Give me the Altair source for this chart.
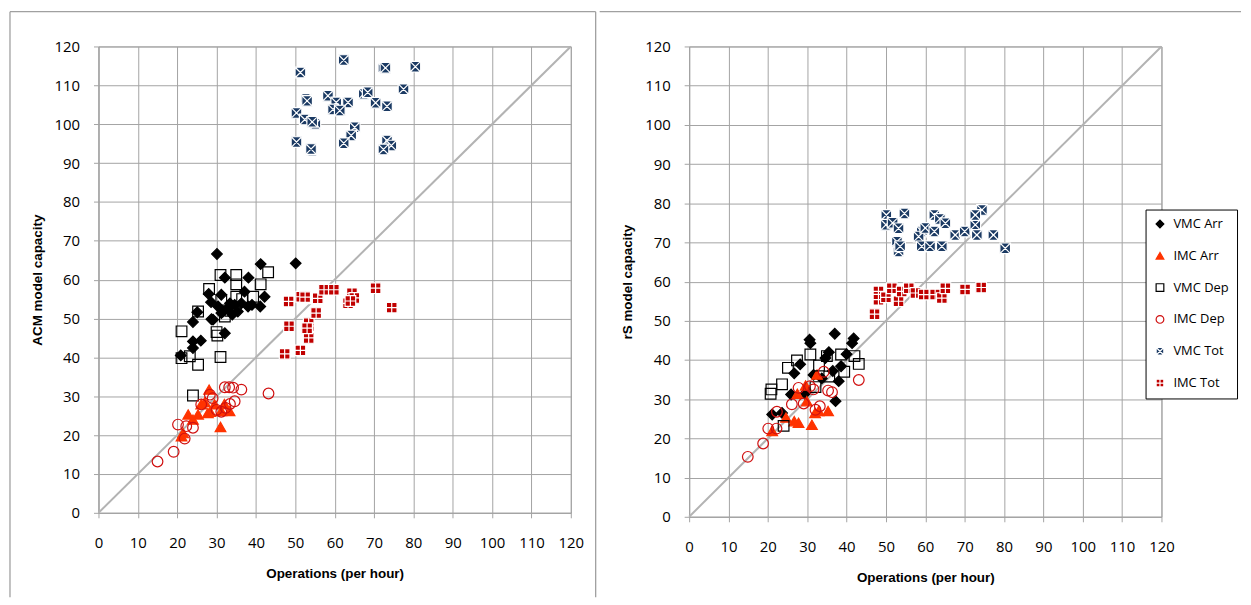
import altair as alt
import pandas as pd

SERIES = ["VMC Arr", "IMC Arr", "VMC Dep", "IMC Dep", "VMC Tot", "IMC Tot"]

# ---------------- Left panel: ACM model capacity ----------------
L_VMCARR_X = [30.1, 41.2, 50.1, 32.1, 38.1, 42.2, 41.1, 28.0, 31.2, 37.1, 38.0, 28.6, 25.1, 24.0, 29.1, 32.1, 24.0, 26.0, 24.0, 20.9, 30.4, 31.6, 32.9, 34.6, 35.4, 36.3, 33.4, 31.2, 28.7, 34.0, 39.0]
L_VMCARR_Y = [66.6, 64.0, 64.2, 60.5, 60.5, 55.6, 53.1, 56.3, 56.1, 56.9, 53.1, 54.2, 51.6, 49.1, 49.7, 46.2, 44.1, 44.3, 42.4, 40.5, 53.1, 51.8, 52.6, 53.5, 51.8, 53.9, 53.9, 51.4, 49.8, 51.0, 53.5]
L_IMCARR_X = [28.1, 22.8, 25.3, 26.1, 27.8, 28.4, 29.5, 31.0, 31.2, 33.3, 21.1, 21.5, 27.0, 32.0, 24.0]
L_IMCARR_Y = [31.7, 25.3, 25.3, 27.9, 25.7, 26.0, 27.9, 22.1, 26.2, 26.2, 19.7, 20.5, 28.5, 28.0, 24.0]
L_VMCDEP_X = [43.1, 35.0, 35.0, 41.2, 28.1, 31.0, 39.3, 35.0, 31.2, 25.3, 32.1, 21.1, 30.2, 30.0, 21.1, 23.2, 31.0, 25.3, 24.0, 33.5, 36.5]
L_VMCDEP_Y = [61.9, 61.2, 58.8, 58.8, 57.6, 61.2, 55.6, 55.6, 54.8, 51.8, 50.5, 46.7, 45.6, 46.5, 39.8, 40.3, 40.1, 38.1, 30.2, 52.0, 55.0]
L_IMCDEP_X = [15.0, 19.1, 21.9, 20.2, 22.3, 24.0, 26.1, 28.3, 29.0, 32.1, 33.2, 34.2, 36.3, 34.6, 33.4, 31.2, 43.2, 32.3, 30.0]
L_IMCDEP_Y = [13.2, 15.7, 19.1, 22.7, 22.3, 21.9, 27.9, 30.4, 29.5, 32.3, 32.3, 32.2, 31.7, 28.7, 28.0, 26.0, 30.7, 27.0, 26.5]
L_VMCTOT_X = [51.3, 62.3, 72.4, 72.9, 80.5, 77.5, 52.7, 53.0, 58.3, 60.4, 63.4, 59.6, 61.3, 67.4, 68.4, 70.4, 73.3, 50.3, 52.4, 55.1, 54.3, 65.1, 64.2, 62.3, 50.3, 54.3, 54.0, 73.3, 74.4, 72.4]
L_VMCTOT_Y = [113.3, 116.5, 114.4, 114.5, 114.8, 109.0, 106.5, 106.0, 107.3, 105.6, 105.6, 103.8, 103.5, 107.8, 108.2, 105.5, 104.6, 102.9, 101.2, 100.1, 100.6, 99.2, 97.1, 95.1, 95.4, 93.2, 93.6, 95.8, 94.5, 93.5]
L_IMCTOT_X = [47.3, 51.3, 48.4, 53.4, 53.4, 53.4, 48.3, 51.5, 54.1, 55.3, 55.7, 57.3, 59.8, 64.4, 65.0, 63.4, 70.4, 74.5, 53.0, 52.5, 64.0]
L_IMCTOT_Y = [40.9, 41.8, 48.0, 48.8, 46.7, 45.0, 54.4, 55.6, 55.2, 51.4, 55.2, 57.4, 57.4, 56.5, 55.3, 53.9, 57.8, 52.8, 47.5, 55.5, 54.5]

# ---------------- Right panel: rS model capacity ----------------
R_VMCARR_X = [37.0, 41.8, 41.4, 30.6, 30.8, 34.6, 28.2, 38.6, 36.5, 38.0, 26.7, 31.6, 33.7, 37.2, 25.9, 21.1, 23.6, 29.4, 40.0, 35.5]
R_VMCARR_Y = [46.7, 45.5, 44.3, 45.2, 44.3, 40.5, 38.9, 38.4, 37.2, 34.6, 36.6, 36.2, 35.3, 29.5, 31.2, 26.1, 26.5, 31.4, 41.5, 42.0]
R_IMCARR_X = [32.5, 27.5, 29.6, 32.9, 35.3, 21.1, 27.8, 31.2, 26.7, 24.6, 29.9, 32.0]
R_IMCARR_Y = [36.3, 31.4, 33.5, 27.0, 27.0, 21.9, 24.0, 23.5, 24.4, 25.3, 29.5, 26.5]
R_VMCDEP_X = [43.1, 38.6, 42.0, 35.0, 30.8, 27.4, 25.1, 39.4, 33.0, 23.6, 20.9, 20.7, 32.1, 24.0, 35.6]
R_VMCDEP_Y = [39.0, 41.4, 41.0, 41.0, 41.4, 39.9, 38.0, 37.0, 38.6, 33.8, 32.5, 31.4, 33.1, 23.2, 35.8]
R_IMCDEP_X = [14.9, 18.8, 20.1, 22.2, 22.3, 26.1, 27.8, 29.1, 30.7, 31.6, 35.3, 36.3, 34.2, 33.2, 32.1, 43.1]
R_IMCDEP_Y = [15.3, 18.7, 22.5, 22.5, 26.8, 28.7, 32.9, 28.9, 33.3, 32.5, 32.2, 31.8, 37.0, 28.2, 27.3, 34.9]
R_VMCTOT_X = [50.1, 54.7, 50.0, 51.7, 53.2, 52.8, 53.2, 53.6, 62.3, 63.7, 65.1, 59.1, 58.3, 60.0, 62.3, 59.1, 61.2, 64.2, 67.6, 70.0, 72.7, 74.4, 72.7, 73.1, 77.3, 80.3]
R_VMCTOT_Y = [77.0, 77.4, 74.5, 75.0, 73.6, 70.2, 67.7, 69.0, 77.0, 76.0, 74.9, 72.8, 71.5, 73.7, 72.8, 69.0, 69.0, 69.0, 71.9, 72.8, 74.5, 78.3, 77.0, 71.9, 71.9, 68.5]
R_IMCTOT_X = [47.1, 48.1, 48.1, 50.0, 51.5, 53.2, 54.0, 55.8, 57.5, 59.6, 62.5, 64.2, 65.1, 70.1, 74.2]
R_IMCTOT_Y = [51.7, 57.5, 55.4, 56.0, 58.3, 55.0, 57.5, 58.3, 57.1, 56.7, 56.7, 55.8, 58.3, 58.0, 58.5]

DIAG_X = [0, 120]
DIAG_Y = [0, 120]
TICKS = [0, 10, 20, 30, 40, 50, 60, 70, 80, 90, 100, 110, 120]

VMC_TOT_PATH = "M-1,-1L1,-1L1,1L-1,1Z M-0.85,-0.85L0.85,0.85 M-0.85,0.85L0.85,-0.85"
IMC_TOT_PATH = "M-1,-1L1,-1L1,1L-1,1Z M0,-0.9L0,0.9 M-0.9,0L0.9,0"
SHAPES = ["diamond", "triangle-up", "square", "circle", VMC_TOT_PATH, IMC_TOT_PATH]
FILLS = ["#000000", "#ff3300", "transparent", "transparent", "#1b3a63", "#c00000"]
STROKES = ["#000000", "#ff3300", "#000000", "#d01010", "#ffffff", "#ffffff"]
SIZES = [115, 115, 140, 125, 170, 160]

FONT = "Open Sans"
GRID = "#a3a3a3"
FRAME = "#a0a0a0"


def make_df(series_data):
    rows = []
    for i, (name, (xs, ys)) in enumerate(zip(SERIES, series_data)):
        for x, y in zip(xs, ys):
            rows.append({"series": name, "ops": x, "cap": y, "ord": i})
    return pd.DataFrame(rows)


left_df = make_df([(L_VMCARR_X, L_VMCARR_Y), (L_IMCARR_X, L_IMCARR_Y), (L_VMCDEP_X, L_VMCDEP_Y),
                   (L_IMCDEP_X, L_IMCDEP_Y), (L_VMCTOT_X, L_VMCTOT_Y), (L_IMCTOT_X, L_IMCTOT_Y)])
right_df = make_df([(R_VMCARR_X, R_VMCARR_Y), (R_IMCARR_X, R_IMCARR_Y), (R_VMCDEP_X, R_VMCDEP_Y),
                    (R_IMCDEP_X, R_IMCDEP_Y), (R_VMCTOT_X, R_VMCTOT_Y), (R_IMCTOT_X, R_IMCTOT_Y)])
diag_df = pd.DataFrame({"ops": DIAG_X, "cap": DIAG_Y})
one = pd.DataFrame({"a": [0]})

LEG = alt.Legend(orient="none", legendX=1053, legendY=164)


def panel(df, ytitle, height, frame_left):
    xaxis = alt.Axis(values=TICKS, title="Operations (per hour)")
    yaxis = alt.Axis(values=TICKS, title=ytitle)
    xscale = alt.Scale(domain=[0, 120], nice=False)
    yscale = alt.Scale(domain=[0, 120], nice=False)
    dom = SERIES
    diag = alt.Chart(diag_df).mark_line(color="#b3b3b3", strokeWidth=2).encode(
        x=alt.X("ops:Q", scale=xscale, axis=xaxis),
        y=alt.Y("cap:Q", scale=yscale, axis=yaxis))
    pts = alt.Chart(df).mark_point(opacity=1, strokeWidth=1.2).encode(
        x=alt.X("ops:Q", scale=xscale, axis=xaxis),
        y=alt.Y("cap:Q", scale=yscale, axis=yaxis),
        shape=alt.Shape("series:N", scale=alt.Scale(domain=dom, range=SHAPES), legend=LEG, title=""),
        fill=alt.Fill("series:N", scale=alt.Scale(domain=dom, range=FILLS), legend=LEG, title=""),
        stroke=alt.Stroke("series:N", scale=alt.Scale(domain=dom, range=STROKES), legend=LEG, title=""),
        size=alt.Size("ord:O", scale=alt.Scale(domain=list(range(len(SERIES))), range=SIZES), legend=None),
        order=alt.Order("ord:Q"),
    )
    layers = [diag, pts]
    if frame_left:
        layers += [
            alt.Chart(one).mark_rule(color=FRAME, strokeWidth=1.3).encode(
                x=alt.value(-89), y=alt.value(-35), y2=alt.value(554)),
            alt.Chart(one).mark_rule(color=FRAME, strokeWidth=1.3).encode(
                x=alt.value(-89), x2=alt.value(500), y=alt.value(-35)),
            alt.Chart(one).mark_rule(color=FRAME, strokeWidth=1.3).encode(
                x=alt.value(500), y=alt.value(-35), y2=alt.value(554)),
        ]
    else:
        layers += [
            alt.Chart(one).mark_rule(color=FRAME, strokeWidth=1.3).encode(
                x=alt.value(-90), x2=alt.value(555), y=alt.value(-35)),
        ]
    return alt.layer(*layers).properties(width=475, height=height)


left = panel(left_df, "ACM model capacity", 469, True)
right = panel(right_df, "rS model capacity", 473, False)

chart = alt.hconcat(left, right, spacing=0).properties(
    padding=0, background="#ffffff"
).configure_view(stroke=GRID, strokeWidth=1).configure_axis(
    gridColor=GRID, gridWidth=1, domainColor=GRID, tickColor=GRID, tickSize=5,
    labelFont=FONT, labelFontSize=15, labelColor="#000000",
    titleFont="Liberation Sans", titleFontSize=13.5, titleFontWeight="bold", titleColor="#000000",
).configure_axisY(labelPadding=14, titlePadding=10).configure_axisX(
    labelPadding=18, titlePadding=16, labelFlush=False
).configure_legend(
    strokeColor="#000000", fillColor="#ffffff", padding=8, cornerRadius=0,
    labelFont=FONT, labelFontSize=13, labelColor="#000000", symbolSize=60,
    symbolStrokeWidth=1.2, rowPadding=18, labelOffset=7,
)

chart.save("out.html", embed_options={"renderer": "svg", "actions": False})
